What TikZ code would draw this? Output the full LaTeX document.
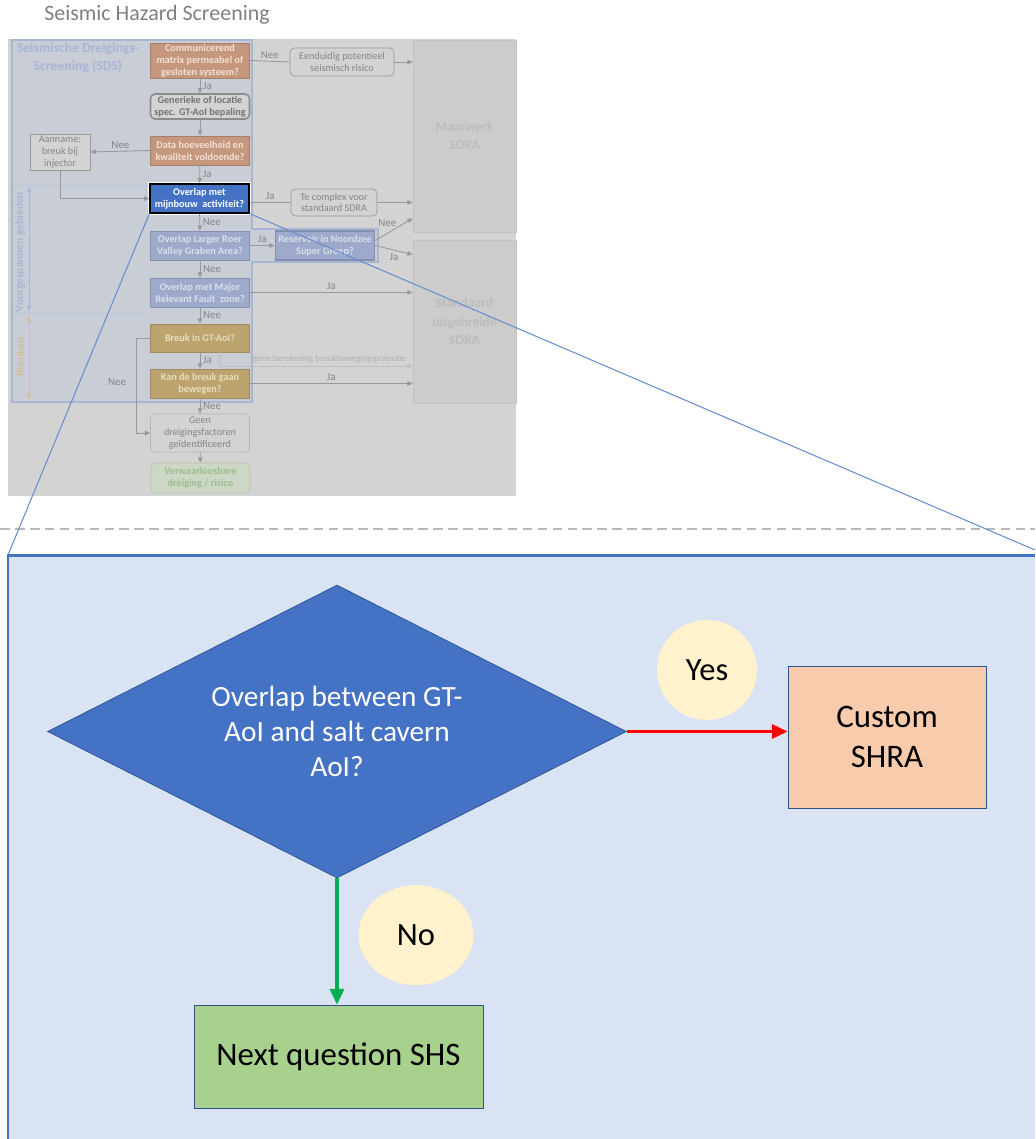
\documentclass[tikz,border=0pt]{standalone}
\usepackage{fontspec}
\setmainfont{Carlito}
\usetikzlibrary{arrows.meta,calc,positioning,shapes.geometric}
\definecolor{inset}{HTML}{D3D3D3}
\definecolor{sdsframe}{HTML}{A7B6D5}
\definecolor{sdsfill}{HTML}{C9CDD6}
\definecolor{sdsorange}{HTML}{C5977C}
\definecolor{orangetxt}{HTML}{F2E2D8}
\definecolor{fadeblue}{HTML}{9DAACB}
\definecolor{fadebluetxt}{HTML}{DADFEA}
\definecolor{olive}{HTML}{BDA46F}
\definecolor{olivetxt}{HTML}{E8DDBF}
\definecolor{sdsline}{HTML}{999999}
\definecolor{sdstext}{HTML}{858585}
\definecolor{sdra}{HTML}{CCCCCC}
\definecolor{sdratxt}{HTML}{BCBCBC}
\definecolor{grn}{HTML}{CDD7C6}
\definecolor{grntxt}{HTML}{9CBD8D}
\definecolor{mainblue}{HTML}{4472C4}
\definecolor{darkblue}{HTML}{2F528F}
\definecolor{panel}{HTML}{DAE3F3}
\definecolor{peach}{HTML}{F8CBAD}
\definecolor{leaf}{HTML}{A9D18E}
\definecolor{cream}{HTML}{FFF2CC}
\definecolor{go}{HTML}{00B050}
\tikzset{%
  arrow/.style={sdsline,line width=0.5pt,-{Triangle[length=3pt,width=2.6pt]}},
  lbl/.style={font=\fontsize{6.2}{7}\selectfont,text=sdstext,inner sep=1.5pt},
  zoomline/.style={mainblue!80,line width=0.6pt},
  bigtext/.style={font=\fontsize{18.7}{22.7}\selectfont,align=center},
}

\begin{document}
\begin{tikzpicture}[x=0.02cm,y=-0.02cm,
    sbox/.style 2 args={rectangle, draw=#1, fill=#2, minimum width=1.98cm,
      inner sep=0pt, align=center, font=\fontsize{5.8}{6.8}\selectfont\bfseries},
    tbox/.style={rectangle, rounded corners=2.5pt, draw=sdsline, fill=inset,
      text=sdstext, align=center, inner sep=0pt, font=\fontsize{5.8}{6.8}\selectfont},
    bigbox/.style={rectangle, draw=sdra!95!black, fill=sdra, text=sdratxt,
      minimum width=2.06cm, align=center, font=\fontsize{7.7}{10.5}\selectfont\bfseries},
    dia/.style={diamond, aspect=1.98, minimum width=11.58cm, minimum height=5.86cm,
      fill=mainblue, draw=darkblue, text=white, inner sep=0pt, align=center,
      font=\fontsize{16.7}{20}\selectfont},
    answer/.style={ellipse, fill=cream, inner sep=0pt, font=\fontsize{18.5}{22}\selectfont}]
    \useasboundingbox (0,0) rectangle (1035,1139);

    \node[font=\fontsize{12.5}{15}\selectfont, text=black!50] (title) at (157,15) {Seismic Hazard Screening};

    % faded screenshot of the SDS flow
    \fill[inset] (8,39) rectangle (516,496);
    \filldraw[fill=sdsfill, draw=sdsframe, line width=0.9pt] (12,40) -- (252,40) -- (252,229)
      -- (378,229) -- (378,262) -- (252,262) -- (252,402) -- (12,402) -- cycle;
    \draw[sdsframe!80, thin] (12,185) -- (150,185) (12,313) -- (150,313);
    \node[font=\fontsize{7.8}{10.4}\selectfont\bfseries, text=sdsframe, align=center] (sds) at (78,58)
      {Seismische Dreigings-\\Screening (SDS)};
    \node[rotate=90, font=\fontsize{6.5}{7}\selectfont\bfseries, text=sdsframe] (vg) at (20,252) {Voorgespannen gebieden};
    \node[rotate=90, font=\fontsize{6.5}{7}\selectfont\bfseries, text=olive!70] (br) at (20,357) {Breuken};
    \coordinate (vg1) at (29,187); \coordinate (vg2) at (29,311);
    \coordinate (br1) at (29,316); \coordinate (br2) at (29,399);
    \draw[sdsframe, line width=0.5pt, {Triangle[length=3pt,width=2.6pt]}-{Triangle[length=3pt,width=2.6pt]}] (vg1) -- (vg2);
    \draw[olive!70, line width=0.5pt, {Triangle[length=3pt,width=2.6pt]}-{Triangle[length=3pt,width=2.6pt]}] (br1) -- (br2);

    \node[sbox={sdsorange!85!black}{sdsorange}, text=orangetxt, minimum height=0.7cm] (q1) at (200,60.5)
      {Communicerend\\matrix permeabel of\\gesloten systeem?};
    \node[tbox, draw=black!45, line width=0.9pt, font=\fontsize{5.8}{6.8}\selectfont\bfseries, text=black!55,
      minimum width=1.98cm, minimum height=0.5cm] (q2) at (200,106.5) {Generieke of locatie\\spec. GT-AoI bepaling};
    \node[sbox={sdsorange!85!black}{sdsorange}, text=orangetxt, minimum height=0.58cm] (q3) at (200,150.5)
      {Data hoeveelheid en\\kwaliteit voldoende?};
    \node[tbox, rounded corners=0pt, minimum width=1.2cm, minimum height=0.72cm] (aan) at (60,152)
      {Aanname:\\breuk bij\\injector};
    \node[sbox={black}{mainblue}, text=white, line width=0.7pt, minimum height=0.58cm,
      preaction={draw=white, line width=2.2pt}] (ov) at (199.5,198.5) {Overlap met\\mijnbouw\ \ activiteit?};
    \node[sbox={fadeblue!85!black}{fadeblue}, text=fadebluetxt, minimum height=0.58cm] (rvg) at (200,245.5)
      {Overlap Larger Roer\\Valley Graben Area?};
    \node[sbox={fadeblue!85!black}{fadeblue}, text=fadebluetxt, minimum height=0.58cm] (mrf) at (200,292.5)
      {Overlap met Major\\Relevant Fault\ \ zone?};
    \node[sbox={olive!85!black}{olive}, text=olivetxt, minimum height=0.56cm] (brk) at (200,338) {Breuk in GT-AoI?};
    \node[sbox={olive!85!black}{olive}, text=olivetxt, minimum height=0.58cm] (bew) at (200,383.5)
      {Kan de breuk gaan\\bewegen?};
    \node[tbox, draw=sdsline!70, minimum width=1.98cm, minimum height=0.76cm] (geen) at (200,433)
      {Geen\\dreigingsfactoren\\geïdentificeerd};
    \node[tbox, draw=grntxt!80, fill=grn, text=grntxt, font=\fontsize{5.8}{6.8}\selectfont\bfseries,
      minimum width=1.98cm, minimum height=0.6cm] (verw) at (200.5,478) {Verwaarloosbare\\dreiging / risico};
    \node[tbox, minimum width=2.08cm, minimum height=0.56cm] (een) at (342,62) {Eenduidig potentieel\\seismisch risico};
    \node[tbox, minimum width=1.72cm, minimum height=0.54cm] (tec) at (334,202.5) {Te complex voor\\standaard SDRA};
    \node[sbox={fadeblue!85!black}{fadeblue}, text=fadebluetxt, line width=0.9pt, minimum height=0.58cm] (res) at (325,245.5)
      {Reservoir in Noordzee\\Super Groep?};
    \node[bigbox, minimum height=3.84cm] (maat) at (464.5,136) {Maatwerk\\SDRA};
    \node[bigbox, minimum height=3.26cm] (std) at (464.5,321.5) {Standaard\\uitgebreide\\SDRA};

    \draw[sdsline, line width=0.5pt] (q1.east) -- (een.west) node[lbl,midway,above] {Nee};
    \draw[arrow] (een.east) -- (een.east -| maat.west);
    \draw[arrow] (q1) -- (q2) node[lbl,midway,right] {Ja};
    \draw[arrow] (q2) -- (q3);
    \draw[arrow] (q3.west) -- (aan.east) node[lbl,midway,above] {Nee};
    \draw[arrow] (q3) -- (ov) node[lbl,midway,right] {Ja};
    \draw[arrow] (aan.south) |- (ov.west);
    \draw[sdsline, line width=0.5pt] (ov.east |- tec.west) -- (tec.west) node[lbl,midway,above] {Ja};
    \draw[arrow] (tec.east) -- (tec.east -| maat.west);
    \foreach \a/\b in {ov/rvg,rvg/mrf,mrf/brk,bew/geen}
      \draw[arrow] (\a) -- (\b) node[lbl,midway,right] {Nee};
    \draw[arrow] (brk) -- (bew) node[lbl,midway,right] {Ja};
    \draw[arrow] (geen) -- (verw);
    \draw[arrow] (rvg.east) -- (res.west) node[lbl,midway,above] {Ja};
    \draw[arrow] ([yshift=0.1cm]res.east) -- ($(maat.south west)+(0,-14)$) node[lbl,midway,above left=0pt and -3pt] {Nee};
    \draw[arrow] (res.east) -- ($(std.north west)+(0,15)$) node[lbl,midway,below] {Ja};
    \draw[arrow] (mrf.east) -- (mrf.east -| std.west) node[lbl,midway,above] {Ja};
    \draw[arrow, sdsline!65] ($(brk.south)+(19,0)$) |- ($(std.south west)+(0,-37)$)
      node[lbl,pos=0.785,above,text=sdstext!65,font=\fontsize{5.1}{5.5}\selectfont] {geen berekening breukbewegingspotentie};
    \draw[arrow] (bew.east) -- (bew.east -| std.west) node[lbl,midway,above] {Ja};
    \draw[arrow] (brk.west) -- ++(-14,0) |- (geen.west) node[lbl,pos=0.23,left=4pt] {Nee};

    % zoomed question
    \coordinate (zl) at (8,555);
    \coordinate (zr) at (1035,550);
    \coordinate (cut1) at (0,529);
    \coordinate (cut2) at (1035,529);
    \draw[black!28, line width=0.6pt, dash pattern=on 5.5pt off 3pt] (cut1) -- (cut2);
    \draw[zoomline] (ov.south west) -- (zl);
    \draw[zoomline] (ov.south east) -- (zr);
    \fill[panel] (8,555) rectangle (1035,1139);
    \draw[mainblue, line width=1.7pt] (1035,555) -- (8,555) -- (8,1139);

    \node[dia] (dq) at (337,731.5) {Overlap between GT-\\AoI and salt cavern\\AoI?};
    \node[rectangle, draw=darkblue, fill=peach, minimum width=3.96cm, minimum height=2.84cm, bigtext] (shra) at (887,737) {Custom\\SHRA};
    \node[rectangle, draw=darkblue, fill=leaf, minimum width=5.78cm, minimum height=2.06cm, bigtext] (next) at (338.5,1056.5) {Next question SHS};
    \node[answer, minimum width=2cm, minimum height=2cm] (yes) at (707,670) {Yes};
    \node[answer, minimum width=2.3cm, minimum height=2cm] (no) at (416,935) {No};

    \draw[red, line width=1.8pt, -{Triangle[length=9pt,width=8pt]}] (dq.east) -- (dq.east -| shra.west);
    \draw[go, line width=1.8pt, -{Triangle[length=9pt,width=8pt]}] (dq.south) -- (dq.south |- next.north);
\end{tikzpicture}
\end{document}
